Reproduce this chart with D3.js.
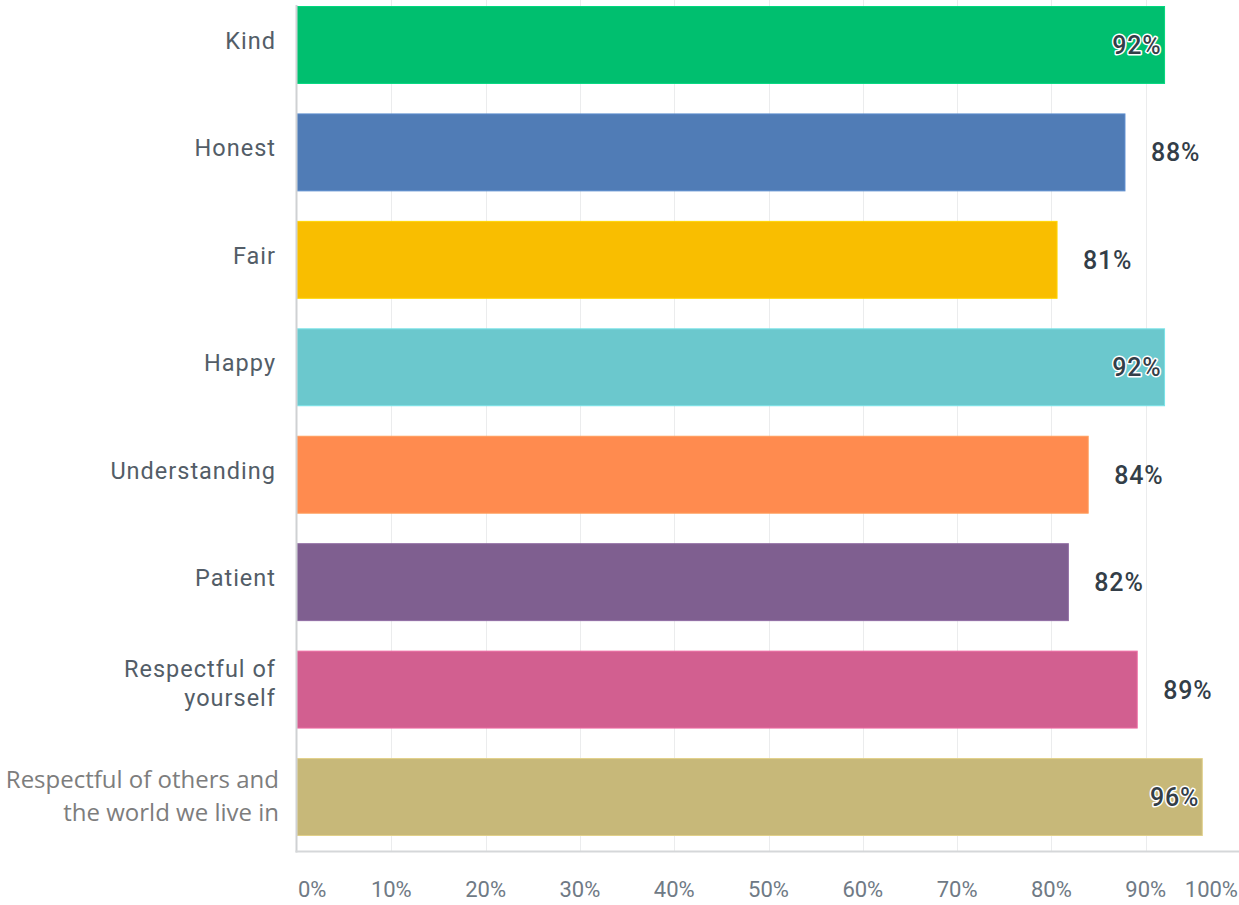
<!DOCTYPE html>
<html>
<head>
<meta charset="utf-8">
<script src="https://cdn.jsdelivr.net/npm/d3@7"></script>
<style>
  html, body { margin: 0; padding: 0; background: #fff; }
  svg { display: block; }
</style>
</head>
<body>
<svg id="chart" width="1239" height="905"></svg>
<script>
const categories = ["Kind", "Honest", "Fair", "Happy", "Understanding", "Patient", "Respectful of yourself", "Respectful of others and the world we live in"];
const categoryLines = [["Kind"], ["Honest"], ["Fair"], ["Happy"], ["Understanding"], ["Patient"], ["Respectful of", "yourself"], ["Respectful of others and", "the world we live in"]];
const values = [92.0, 87.8, 80.6, 92.0, 83.9, 81.8, 89.1, 96.0];
const valueLabels = ["92%", "88%", "81%", "92%", "84%", "82%", "89%", "96%"];
const colors = ["#00bf6f", "#507cb6", "#f9be00", "#6bc8cd", "#ff8b4f", "#7f5f90", "#d25f90", "#c7b879"];
const tickValues = [0, 10, 20, 30, 40, 50, 60, 70, 80, 90, 100];
const tickLabels = ["0%", "10%", "20%", "30%", "40%", "50%", "60%", "70%", "80%", "90%", "100%"];

const svg = d3.select("#chart");
const x0 = 297, x1 = 1240;
const axisY = 851.5;

const x = d3.scaleLinear().domain([0, 100]).range([x0, x1]);
const y = d3.scaleBand().domain(categories).range([6.5, 835.5]).paddingInner(0.284).paddingOuter(0);

// gridlines
svg.append("g").selectAll("line")
  .data(tickValues.filter(d => d > 0 && d < 100))
  .join("line")
  .attr("x1", d => Math.round(x(d)) + 0.5).attr("x2", d => Math.round(x(d)) + 0.5)
  .attr("y1", 0).attr("y2", axisY)
  .attr("stroke", "#ebeced").attr("stroke-width", 1);

// bars
svg.append("g").selectAll("rect")
  .data(categories)
  .join("rect")
  .attr("x", x(0))
  .attr("y", d => y(d))
  .attr("width", (d, i) => x(values[i]) - x(0))
  .attr("height", y.bandwidth())
  .attr("fill", (d, i) => colors[i])
  .attr("stroke", (d, i) => d3.color(colors[i]).brighter(0.35))
  .attr("stroke-width", 1);

// axes lines
svg.append("line")
  .attr("x1", x0 - 0.5).attr("x2", x0 - 0.5)
  .attr("y1", 5).attr("y2", axisY + 1)
  .attr("stroke", "#cfd1d3").attr("stroke-width", 2);
svg.append("line")
  .attr("x1", x0 - 1.5).attr("x2", x1)
  .attr("y1", axisY).attr("y2", axisY)
  .attr("stroke", "#d5d7d9").attr("stroke-width", 2);

// tick labels
svg.append("g").selectAll("text")
  .data(tickValues)
  .join("text")
  .attr("x", (d, i) => i === 0 ? x(d) + 1 : (i === tickValues.length - 1 ? x(d) - 2 : x(d)))
  .attr("y", 897)
  .attr("text-anchor", (d, i) => i === 0 ? "start" : (i === tickValues.length - 1 ? "end" : "middle"))
  .attr("font-family", "Roboto, sans-serif")
  .attr("font-size", 22)
  .attr("fill", "#6f7a85")
  .text((d, i) => tickLabels[i]);

// category labels
const catG = svg.append("g");
categories.forEach((c, i) => {
  const lines = categoryLines[i];
  const cy = y(c) + y.bandwidth() / 2;
  const isLast = i === categories.length - 1;
  const t = catG.append("text")
    .attr("text-anchor", "end")
    .attr("font-family", isLast ? "'Open Sans', sans-serif" : "Roboto, sans-serif")
    .attr("font-size", isLast ? 24 : 23.5)
    .attr("letter-spacing", isLast ? 0 : 1)
    .attr("fill", isLast ? "#7d7d7d" : "#535d67");
  if (lines.length === 1) {
    t.append("tspan").attr("x", 276).attr("y", cy + 4).text(lines[0]);
  } else if (!isLast) {
    t.append("tspan").attr("x", 276).attr("y", cy - 12.5).text(lines[0]);
    t.append("tspan").attr("x", 276).attr("y", cy + 16.5).text(lines[1]);
  } else {
    t.append("tspan").attr("x", 279).attr("y", cy - 9.5).text(lines[0]);
    t.append("tspan").attr("x", 279).attr("y", cy + 23.5).text(lines[1]);
  }
});

// value labels
const valG = svg.append("g")
  .attr("font-family", "Roboto, sans-serif")
  .attr("font-size", 25)
  .attr("letter-spacing", 0.8)
  .attr("font-weight", 500);
categories.forEach((c, i) => {
  const cy = y(c) + y.bandwidth() / 2;
  const end = x(values[i]);
  const t = valG.append("text").attr("y", cy + 9).attr("fill", "#333e48").text(valueLabels[i]);
  const w = t.node().getComputedTextLength();
  if (end + 26 + w > x1 - 12) {
    t.attr("x", end - 3).attr("text-anchor", "end")
      .attr("stroke", "#ffffff").attr("stroke-width", 3).attr("stroke-linejoin", "round")
      .attr("paint-order", "stroke");
  } else {
    t.attr("x", end + 26).attr("text-anchor", "start");
  }
});
</script>
</body>
</html>
